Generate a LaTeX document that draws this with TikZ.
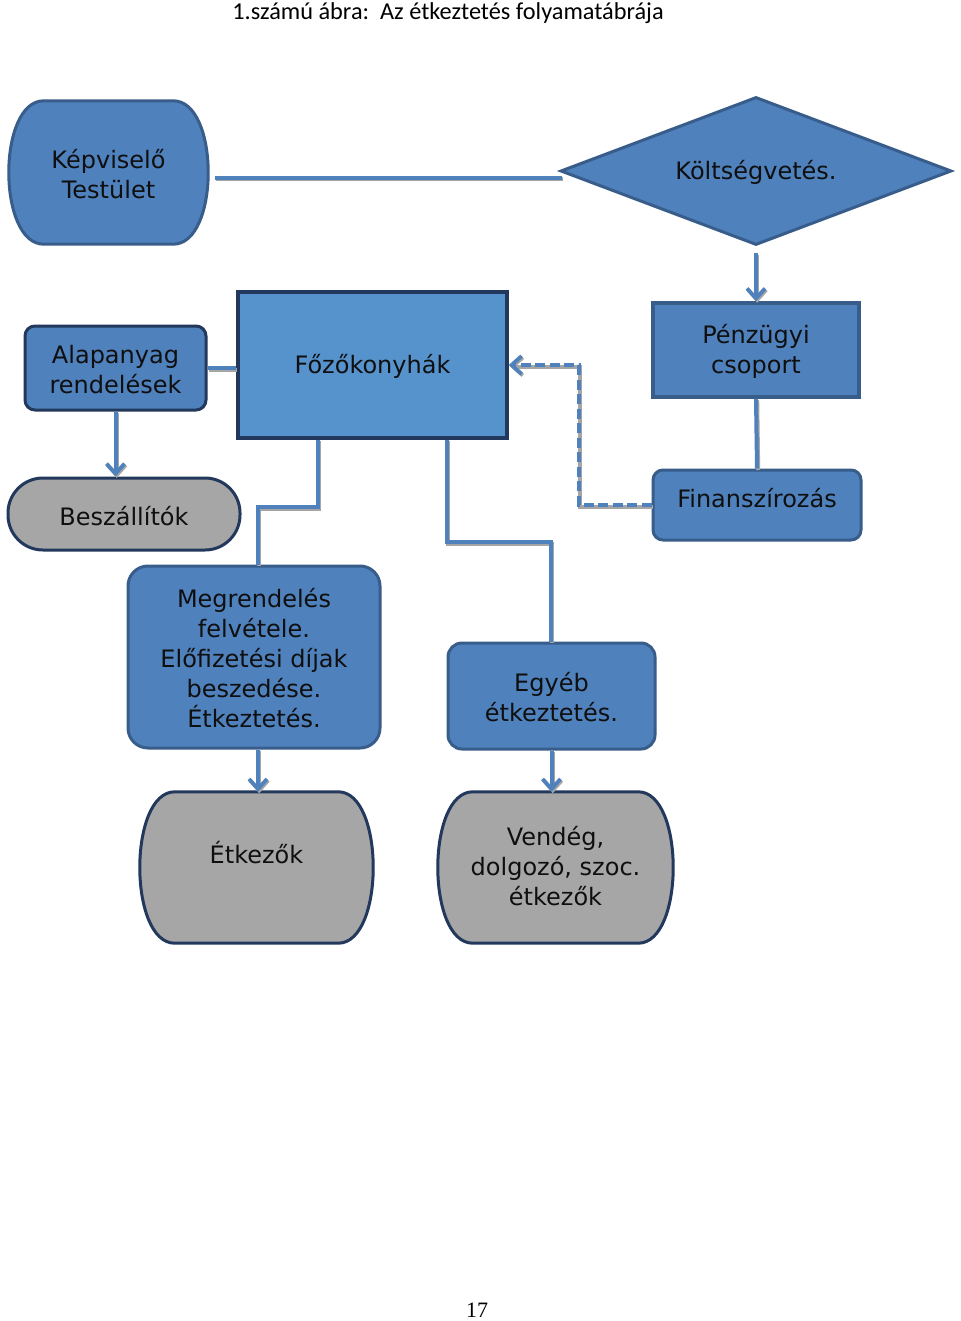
\documentclass[tikz,border=0pt]{standalone}
\usepackage{fontspec}
\setmainfont{DejaVu Sans}
\newfontfamily\titlefont{Carlito}
\newfontfamily\numfont{Liberation Serif}
\usetikzlibrary{shapes.geometric,arrows.meta}
\definecolor{bfill}{RGB}{79,129,189}
\definecolor{lfill}{RGB}{86,147,205}
\definecolor{gfill}{RGB}{166,166,166}
\definecolor{bmid}{RGB}{56,93,138}
\definecolor{bdark}{RGB}{34,56,92}
\definecolor{conncol}{RGB}{79,129,189}
\definecolor{shgrey}{RGB}{165,165,165}
\definecolor{txtcol}{RGB}{15,15,15}
\tikzset{
  shp/.style={inner sep=0pt, line width=3pt},
  bluebox/.style={shp, fill=bfill, draw=bmid},
  txt/.style={text=txtcol, align=center, inner sep=0pt, font=\fontsize{24}{30}\selectfont},
  conn/.style={draw=conncol, line width=4pt,
     preaction={draw=shgrey, line width=4pt, transform canvas={shift={(1.2pt,-1.5pt)}}}},
  arr/.style={conn, -{Straight Barb[length=10pt,width=18pt,line width=3.8pt]}},
}
\newcommand{\bulgebox}[3]{% name, fill, draw
  \filldraw[fill=#2, draw=#3, line width=3pt]
    ([xshift=35pt]#1.north west) -- ([xshift=-35pt]#1.north east)
    .. controls ([xshift=11.7pt]#1.north east) and ([xshift=11.7pt]#1.south east) ..
    ([xshift=-35pt]#1.south east) -- ([xshift=35pt]#1.south west)
    .. controls ([xshift=-11.7pt]#1.south west) and ([xshift=-11.7pt]#1.north west) ..
    cycle;}
\begin{document}
\begin{tikzpicture}[x=1pt,y=-1pt]
\useasboundingbox[fill=white] (0,0) rectangle (960,1321);

% title and page number
\node[anchor=base, inner sep=0pt, font=\titlefont\fontsize{24.3}{28}\selectfont] (title) at (448,19.5) {1.számú ábra:\ \ Az étkeztetés folyamatábrája};
\node[anchor=base, inner sep=0pt, font=\numfont\fontsize{22}{26}\selectfont] (page) at (477,1317) {17};

% shapes
\node[inner sep=0pt, minimum width=199pt, minimum height=143pt] (kep) at (108.5,172.5) {};
\bulgebox{kep}{bfill}{bmid}
\node[diamond, shp, fill=bfill, draw=bmid, minimum width=391pt, minimum height=148pt] (kolt) at (756,171) {};
\node[shp, fill=bfill, draw=bdark, rounded corners=10pt, minimum width=181pt, minimum height=84pt] (alap) at (115.5,368) {};
\node[shp, fill=lfill, draw=bdark, line width=3.5pt, minimum width=269pt, minimum height=146pt] (fozo) at (372.5,365) {};
\node[bluebox, line width=3.5pt, minimum width=206pt, minimum height=94pt] (pen) at (756,350) {};
\node[shp, fill=gfill, draw=bdark, rounded corners=35pt, minimum width=232pt, minimum height=72pt] (besz) at (124,514) {};
\node[bluebox, rounded corners=10pt, minimum width=208pt, minimum height=70pt] (fin) at (757,505) {};
\node[bluebox, rounded corners=20pt, minimum width=252pt, minimum height=182pt] (meg) at (254,657) {};
\node[bluebox, rounded corners=14pt, minimum width=207pt, minimum height=106pt] (egy) at (551.5,696) {};
\node[inner sep=0pt, minimum width=233pt, minimum height=151pt] (etk) at (256.5,867.5) {};
\bulgebox{etk}{gfill}{bdark}
\node[inner sep=0pt, minimum width=235pt, minimum height=151pt] (ven) at (555.5,867.5) {};
\bulgebox{ven}{gfill}{bdark}

% texts
\node[txt] (tkep) at (108.5,174) {Képviselő\\Testület};
\node[txt] (tkolt) at (756,172) {Költségvetés.};
\node[txt] (talap) at (115.5,370) {Alapanyag\\rendelések};
\node[txt] (tfozo) at (372.5,366) {Főzőkonyhák};
\node[txt] (tpen) at (756,351) {Pénzügyi\\csoport};
\node[txt] (tbesz) at (124,516) {Beszállítók};
\node[txt] (tfin) at (757,498) {Finanszírozás};
\node[txt] (tmeg) at (254,658) {Megrendelés\\felvétele.\\Előfizetési díjak\\beszedése.\\Étkeztetés.};
\node[txt] (tegy) at (551.5,697.5) {Egyéb\\étkeztetés.};
\node[txt] (tetk) at (256.5,853) {Étkezők};
\node[txt] (tven) at (555.5,866) {Vendég,\\dolgozó, szoc.\\étkezők};

% connectors
\coordinate (m1) at (258,507);
\coordinate (e1) at (551,542);
\draw[conn] ([xshift=7pt,yshift=-5.5pt]kep.east) -- ([xshift=3pt,yshift=-7pt]kolt.west);
\draw[arr, shorten <=7pt] (kolt.south) -- (pen.north);
\draw[conn] (pen.south) -- (fin.north);
\draw[arr, dash pattern=on 10pt off 4.5pt] (fin.west) -- ++(-73,0) |- (fozo.east);
\draw[conn] (alap.east) -- (alap.east -| fozo.west);
\draw[arr] (alap.south) -- (alap.south |- besz.north);
\draw[conn] ([xshift=-54.5pt]fozo.south) |- (m1) -- (m1 |- meg.north);
\draw[conn] ([xshift=74.5pt]fozo.south) |- (e1) -- (e1 |- egy.north);
\draw[arr] ([xshift=4pt]meg.south) -- ([xshift=4pt]meg.south |- etk.north);
\draw[arr] (egy.south) -- (egy.south |- ven.north);
\end{tikzpicture}
\end{document}
